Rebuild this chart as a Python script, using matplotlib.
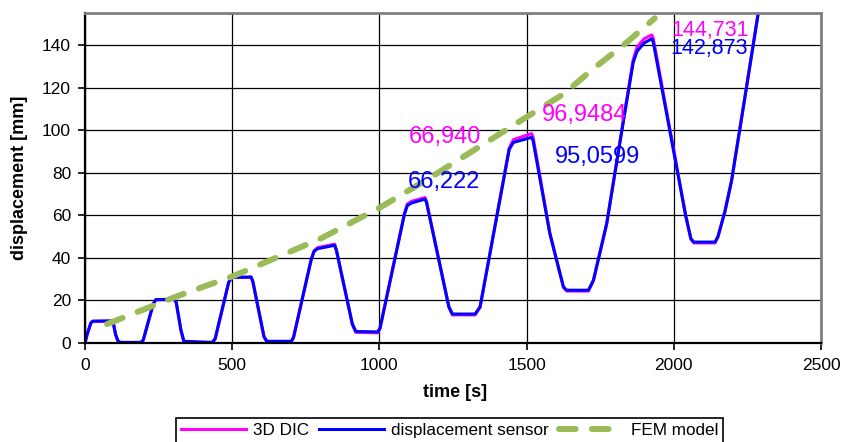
### displacement vs time: 3D DIC, displacement sensor and FEM model

import numpy as np
import matplotlib.pyplot as plt

plt.rcParams['font.family'] = ['Liberation Sans', 'DejaVu Sans']

# measured curves (time in s, displacement in mm)
time_s = [
    0, 8, 20, 27, 90, 96, 104, 112, 120,
    190, 198, 232, 241, 304, 310, 326, 336,
    432, 442, 488, 498, 564, 570, 608, 618,
    700, 708, 768, 778, 790, 848, 854, 908, 920,
    994, 1002, 1085, 1095, 1110, 1155, 1160, 1236, 1248,
    1325, 1342, 1441, 1455, 1517, 1522, 1579, 1625, 1636,
    1710, 1727, 1772, 1829, 1862, 1875, 1900, 1925, 1930, 2040, 2058, 2068,
    2140, 2150, 2174, 2196, 2240, 2295]

sensor_mm = [
    0, 4.5, 9.5, 10.3, 10.4, 9.5, 4, 1, 0.3,
    0.3, 1.5, 18.5, 20.4, 20.5, 19, 6, 0.8,
    0.3, 2, 28.5, 30.8, 31, 29, 3, 0.8,
    0.8, 2.5, 39, 43, 44.3, 45.9, 43.5, 9, 5.4,
    5.2, 7, 60.5, 64.6, 65.8, 67.6, 66, 17, 13.6,
    13.6, 17, 91, 94.2, 96.6, 95, 51.4, 26.4, 24.8,
    24.8, 29.5, 56, 104.4, 131.7, 137, 141, 142.9, 141.5, 60, 49, 47.4,
    47.4, 50, 62, 76, 114, 162]

dic_mm = [
    0, 4.3, 9.3, 10.1, 10.2, 9.3, 3.8, 0.7, 0.0,
    0.0, 1.3, 18.4, 20.3, 20.4, 18.8, 5.8, 0.5,
    0.0, 1.8, 28.4, 30.7, 30.9, 28.8, 2.8, 0.5,
    0.5, 2.3, 39, 43.3, 44.8, 46.4, 43.6, 8.7, 5.0,
    4.8, 6.7, 60.8, 65.3, 66.6, 68.3, 66.5, 16.8, 13.2,
    13.2, 16.8, 91.5, 95.5, 98.4, 96.8, 51.5, 26.2, 24.4,
    24.4, 29.3, 56, 104.8, 133, 139, 143, 144.7, 143.3, 60.3, 48.8, 47.0,
    47.0, 49.8, 62, 76.2, 114.3, 162.3]

# FEM prediction
fem_t = [75, 313, 503, 800, 1003, 1173, 1480, 1626, 1728, 1830, 1935]
fem_mm = [8.9, 22, 31.4, 49, 63.7, 77.7, 104.4, 117, 129, 140, 152.5]

# peak values written on the chart
peak_labels = ['66,940', '66,222', '96,9484', '95,0599', '144,731', '142,873']
peak_t = [1098, 1095, 1551, 1596, 1993, 1989]
peak_y = [93.8, 72.9, 104.4, 84.4, 144.2, 135.6]
peak_colors = ['#FF00FF', '#0000FF', '#FF00FF', '#0000FF', '#FF00FF', '#0000FF']
peak_sizes = [17, 17, 17, 17, 15.5, 15.5]

fig = plt.figure(figsize=(8.57, 4.42), dpi=100)
ax = fig.add_axes([85/857, 99/442, 736/857, 330/442])

l_dic, = ax.plot(time_s, dic_mm, color='#FF00FF', lw=2.2, label='3D DIC')
l_sen, = ax.plot(time_s, sensor_mm, color='#0000FF', lw=2.2, label='displacement sensor')
l_fem, = ax.plot(fem_t, fem_mm, color='#9BBB59', lw=4.3, ls=(0, (2.8, 2.7)),
                 dash_capstyle='round', label='FEM model')

for s, t, y, c, fs in zip(peak_labels, peak_t, peak_y, peak_colors, peak_sizes):
    ax.text(t, y, s, color=c, fontsize=fs, ha='left', va='baseline')

ax.set_xlim(0, 2500)
ax.set_ylim(0, 155)
ax.set_xticks(np.arange(0, 2501, 500))
ax.set_yticks(np.arange(0, 141, 20))
ax.grid(True, color='black', lw=0.9)
ax.set_axisbelow(True)
ax.tick_params(axis='both', direction='out', length=5, width=1.2, labelsize=12.5, colors='black')
ax.tick_params(axis='y', pad=5)
ax.tick_params(axis='x', pad=5.5)

for side in ['left', 'bottom']:
    ax.spines[side].set_color('black')
    ax.spines[side].set_linewidth(1.6)
for side in ['top', 'right']:
    ax.spines[side].set_color('#808080')
    ax.spines[side].set_linewidth(2)

ax.set_xlabel('time [s]', fontsize=13, fontweight='bold')
ax.set_ylabel('displacement [mm]', fontsize=13, fontweight='bold')
ax.xaxis.set_label_coords(0.503, -0.125)
ax.yaxis.set_label_coords(-0.078, 0.5)

leg = fig.legend(handles=[l_dic, l_sen, l_fem], loc='upper center',
                 bbox_to_anchor=(449.5/857, 33/442), ncol=3, fontsize=12.3,
                 frameon=True, fancybox=False, edgecolor='black', framealpha=1,
                 handlelength=3.8, handletextpad=0.4, columnspacing=0.6,
                 borderpad=0.3)
leg.get_frame().set_linewidth(1.2)

plt.savefig('out.png', dpi=100)
